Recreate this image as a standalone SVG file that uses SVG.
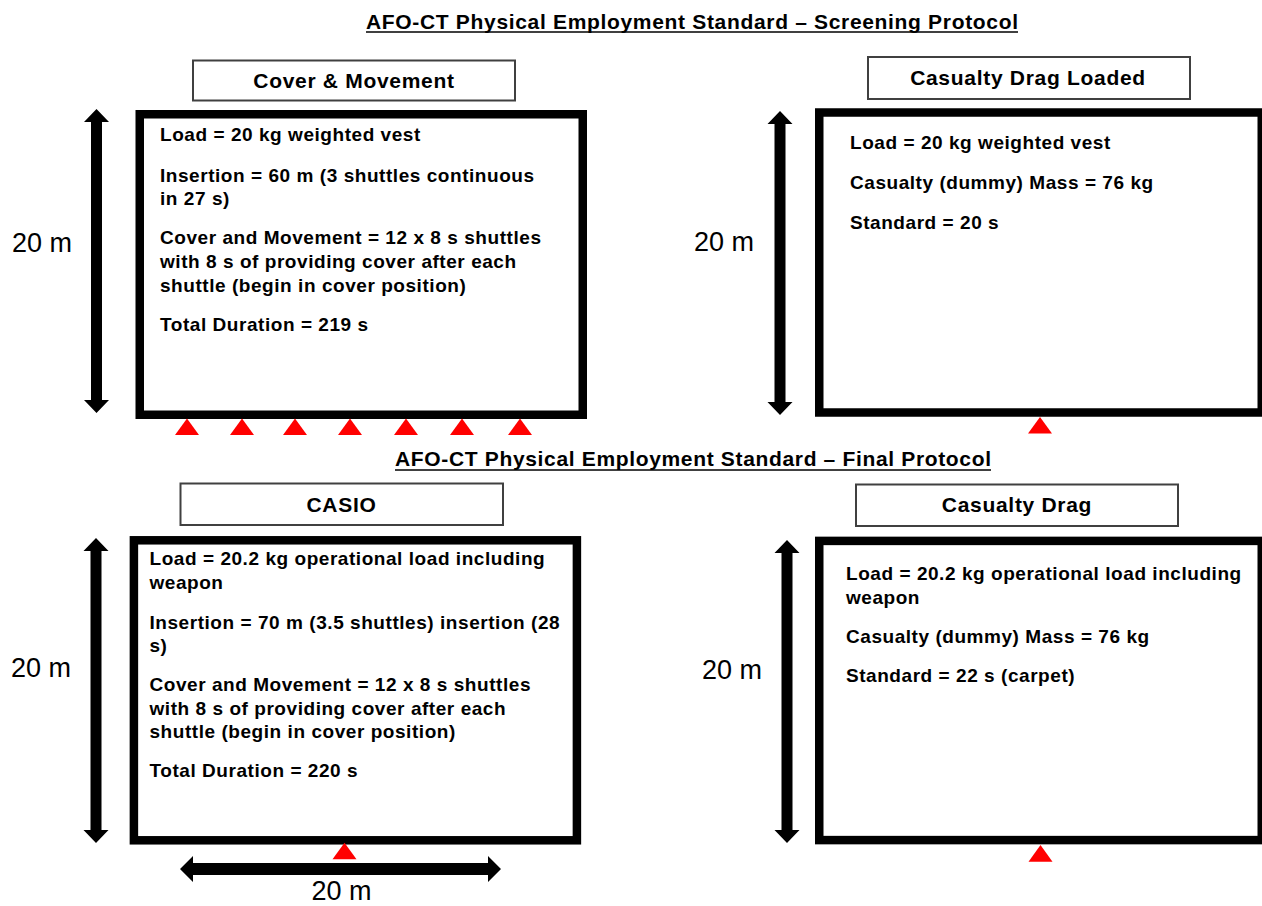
<svg xmlns="http://www.w3.org/2000/svg" width="1262" height="906" viewBox="0 0 1262 906">
  <style>
    .title { font-family: "Liberation Sans", Arial, sans-serif; font-weight: bold; font-size: 21px; fill: #000; }
    .uline { stroke: #000; stroke-width: 1.7; }
    .label { fill: #fff; stroke: #404040; stroke-width: 2; }
    .labeltxt { font-family: "Liberation Sans", Arial, sans-serif; font-weight: bold; font-size: 21px; letter-spacing: 0.7px; text-anchor: middle; fill: #000; }
    .field { fill: #fff; stroke: #000; stroke-width: 8.5; }
    .body { font-family: "Liberation Sans", Arial, sans-serif; font-weight: bold; font-size: 19px; letter-spacing: 0.55px; fill: #000; }
    .dim { font-family: "Liberation Sans", Arial, sans-serif; font-size: 27px; fill: #000; }
    .arrow { fill: #000; }
    .cone { fill: #ff0000; }
  </style>
  <rect width="1262" height="906" fill="#fff"/>

  <g id="titles">
    <text class="title" x="366" y="28.5" textLength="652" lengthAdjust="spacing">AFO-CT Physical Employment Standard – Screening Protocol</text>
    <line class="uline" x1="366" y1="32" x2="1018" y2="32"/>
    <text class="title" x="395" y="466" textLength="596" lengthAdjust="spacing">AFO-CT Physical Employment Standard – Final Protocol</text>
    <line class="uline" x1="395" y1="470" x2="991" y2="470"/>
  </g>

  <g id="cover-movement">
    <rect class="label" x="193" y="60.5" width="322" height="40"/>
    <text class="labeltxt" x="354" y="87.5">Cover &amp; Movement</text>
    <rect class="field" x="139.75" y="114.25" width="443" height="300.5"/>
    <text class="body" x="160" y="141">Load = 20 kg weighted vest</text>
    <text class="body" x="160" y="181.5">Insertion = 60 m (3 shuttles continuous</text>
    <text class="body" x="160" y="205">in 27 s)</text>
    <text class="body" x="160" y="244">Cover and Movement = 12 x 8 s shuttles</text>
    <text class="body" x="160" y="268">with 8 s of providing cover after each</text>
    <text class="body" x="160" y="292">shuttle (begin in cover position)</text>
    <text class="body" x="160" y="331">Total Duration = 219 s</text>
    <text class="dim" x="12" y="252">20 m</text>
    <polygon class="cone" points="187,418.5 199,435 175,435"/>
    <polygon class="cone" points="242,418.5 254,435 230,435"/>
    <polygon class="cone" points="295,418.5 307,435 283,435"/>
    <polygon class="cone" points="350,418.5 362,435 338,435"/>
    <polygon class="cone" points="406,418.5 418,435 394,435"/>
    <polygon class="cone" points="462,418.5 474,435 450,435"/>
    <polygon class="cone" points="520,418.5 532,435 508,435"/>
  </g>

  <g id="casualty-drag-loaded">
    <rect class="label" x="868" y="57" width="322" height="42"/>
    <text class="labeltxt" x="1028" y="85">Casualty Drag Loaded</text>
    <rect class="field" x="819.25" y="112.5" width="442.5" height="300"/>
    <text class="body" x="850" y="149">Load = 20 kg weighted vest</text>
    <text class="body" x="850" y="189">Casualty (dummy) Mass = 76 kg</text>
    <text class="body" x="850" y="228.5">Standard = 20 s</text>
    <text class="dim" x="694" y="251">20 m</text>
    <polygon class="cone" points="1040,417 1052,433.5 1028,433.5"/>
  </g>

  <g id="casio">
    <rect class="label" x="180.5" y="483.5" width="322.5" height="41.5"/>
    <text class="labeltxt" x="341.5" y="512">CASIO</text>
    <rect class="field" x="133.9" y="540.3" width="443" height="300"/>
    <text class="body" x="149.5" y="565">Load = 20.2 kg operational load including</text>
    <text class="body" x="149.5" y="588.5">weapon</text>
    <text class="body" x="149.5" y="628.5">Insertion = 70 m (3.5 shuttles) insertion (28</text>
    <text class="body" x="149.5" y="652">s)</text>
    <text class="body" x="149.5" y="691">Cover and Movement = 12 x 8 s shuttles</text>
    <text class="body" x="149.5" y="714.5">with 8 s of providing cover after each</text>
    <text class="body" x="149.5" y="738">shuttle (begin in cover position)</text>
    <text class="body" x="149.5" y="777">Total Duration = 220 s</text>
    <text class="dim" x="11" y="677">20 m</text>
    <text class="dim" x="311.5" y="900">20 m</text>
    <polygon class="cone" points="344.5,842.7 356.5,859.3 332.5,859.3"/>
  </g>

  <g id="casualty-drag">
    <rect class="label" x="856" y="484.5" width="322" height="41.5"/>
    <text class="labeltxt" x="1017" y="512">Casualty Drag</text>
    <rect class="field" x="819.25" y="540.9" width="442.5" height="299.2"/>
    <text class="body" x="846" y="579.5">Load = 20.2 kg operational load including</text>
    <text class="body" x="846" y="603.5">weapon</text>
    <text class="body" x="846" y="642.5">Casualty (dummy) Mass = 76 kg</text>
    <text class="body" x="846" y="682">Standard = 22 s (carpet)</text>
    <text class="dim" x="702" y="679">20 m</text>
    <polygon class="cone" points="1040.5,845 1052.5,861.7 1028.5,861.7"/>
  </g>

  <g id="connectors">
    <polygon class="arrow" points="96.5,109 109,122 102,122 102,400 109,400 96.5,413 84,400 91,400 91,122 84,122"/>
    <polygon class="arrow" points="780,111 792.5,124 785.5,124 785.5,402 792.5,402 780,415 767.5,402 774.5,402 774.5,124 767.5,124"/>
    <polygon class="arrow" points="96,538 108.5,551 101.5,551 101.5,830 108.5,830 96,843 83.5,830 90.5,830 90.5,551 83.5,551"/>
    <polygon class="arrow" points="787,540 799.5,553 792.5,553 792.5,830 799.5,830 787,843 774.5,830 781.5,830 781.5,553 774.5,553"/>
    <polygon class="arrow" points="180,869 193,856 193,863 488,863 488,856 501,869 488,882 488,875 193,875 193,882"/>
  </g>
</svg>
